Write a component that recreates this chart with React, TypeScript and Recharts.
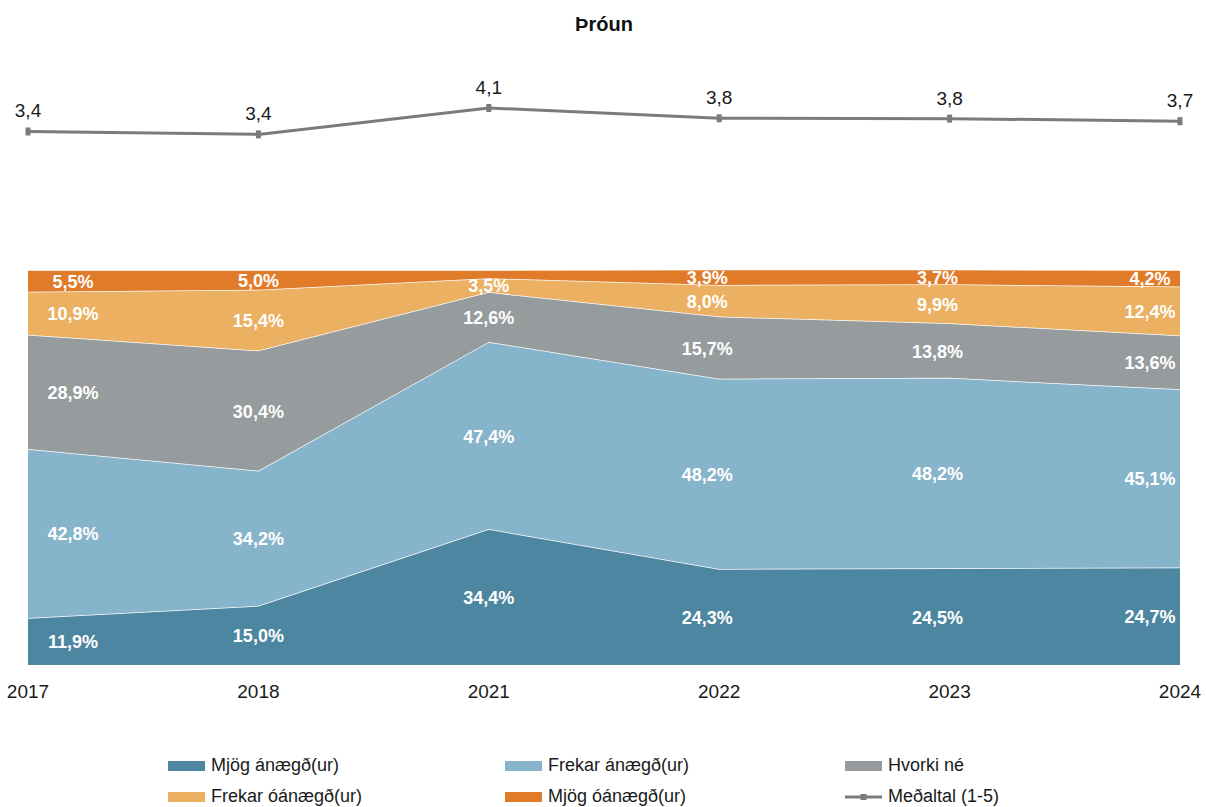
import React from 'react';
import {
  ComposedChart,
  LineChart,
  Line,
  Area,
  XAxis,
  YAxis,
  LabelList,
  Legend,
} from 'recharts';

if (typeof document !== 'undefined') {
  document.documentElement.style.overflow = 'hidden';
  document.body.style.margin = '0';
}

// ---------- data ----------
const years = ['2017', '2018', '2021', '2022', '2023', '2024'];
const mjogAnaegd = [11.9, 15.0, 34.4, 24.3, 24.5, 24.7];
const frekarAnaegd = [42.8, 34.2, 47.4, 48.2, 48.2, 45.1];
const hvorkiNe = [28.9, 30.4, 12.6, 15.7, 13.8, 13.6];
const frekarOanaegd = [10.9, 15.4, 3.5, 8.0, 9.9, 12.4];
const mjogOanaegd = [5.5, 5.0, 2.1, 3.9, 3.7, 4.2];
const medaltal = [3.44, 3.36, 4.08, 3.8, 3.79, 3.72];

const seriesNames = [
  'Mjög ánægð(ur)',
  'Frekar ánægð(ur)',
  'Hvorki né',
  'Frekar óánægð(ur)',
  'Mjög óánægð(ur)',
];
const lineName = 'Meðaltal (1-5)';
const seriesValues = [mjogAnaegd, frekarAnaegd, hvorkiNe, frekarOanaegd, mjogOanaegd];

// ---------- styles ----------
const COLORS = ['#4d86a0', '#86b4ca', '#969b9d', '#ebb062', '#e07b2a'];
const LINE_COLOR = '#7b7b7b';
const FONT = '"Liberation Sans", Arial, sans-serif';
const LABEL_DX = [45, 0, 0, -12, -12, -30];

const areaData = years.map((year, i) => {
  const row: Record<string, number | string> = { year };
  let cum = 0;
  seriesValues.forEach((arr, k) => {
    row[`v${k}`] = arr[i];
    row[`m${k}`] = cum + arr[i] / 2;
    cum += arr[i];
  });
  return row;
});

const lineData = years.map((year, i) => ({ year, avg: medaltal[i] }));

const fmt = (v: number, d = 1) => v.toFixed(d).replace('.', ',');

const BandLabel = (props: any) => {
  const { x, y, value, index } = props;
  if (value == null || value < 3) return null;
  return (
    <text
      x={x + (LABEL_DX[index] || 0)}
      y={y + 7}
      textAnchor="middle"
      fill="#ffffff"
      fontWeight="bold"
      fontSize={18}
      fontFamily={FONT}
    >
      {fmt(value)}%
    </text>
  );
};

const AvgLabel = (props: any) => {
  const { x, y, value } = props;
  return (
    <text x={x} y={y - 14} textAnchor="middle" fill="#1a1a1a" fontSize={19} fontFamily={FONT}>
      {fmt(value)}
    </text>
  );
};

const SquareDot = (props: any) => {
  const { cx, cy, index } = props;
  if (cx == null || cy == null) return null;
  return <rect key={`d${index}`} x={cx - 2.5} y={cy - 4} width={5} height={8} fill={LINE_COLOR} />;
};

const CustomLegend = () => {
  const cols = [168, 505, 845];
  const items = [
    ...seriesNames.map((n, k) => ({ name: n, color: COLORS[k], line: false })),
    { name: lineName, color: LINE_COLOR, line: true },
  ];
  return (
    <div style={{ position: 'relative', width: 1206, height: 62, fontFamily: FONT }}>
      {items.map((it, i) => {
        const row = Math.floor(i / 3);
        const col = i % 3;
        return (
          <div
            key={it.name}
            style={{
              position: 'absolute',
              left: cols[col],
              top: row * 31,
              height: 31,
              display: 'flex',
              alignItems: 'center',
              fontSize: 18,
              color: '#1a1a1a',
              whiteSpace: 'nowrap',
            }}
          >
            {it.line ? (
              <svg width={37} height={10} style={{ marginRight: 6 }}>
                <line x1={0} y1={5} x2={37} y2={5} stroke={it.color} strokeWidth={3} />
                <rect x={15.5} y={2} width={6} height={6} fill={it.color} />
              </svg>
            ) : (
              <span
                style={{
                  display: 'inline-block',
                  width: 37,
                  height: 10,
                  background: it.color,
                  marginRight: 6,
                }}
              />
            )}
            <span>{it.name}</span>
          </div>
        );
      })}
    </div>
  );
};

export default function App() {
  return (
    <div style={{ position: 'relative', width: 1206, height: 807, fontFamily: FONT, background: '#fff', overflow: 'hidden' }}>
      <div
        style={{
          position: 'absolute',
          top: 12,
          left: 0,
          width: 1208,
          textAlign: 'center',
          fontWeight: 'bold',
          fontSize: 20,
          lineHeight: '24px',
          color: '#111',
        }}
      >
        Þróun
      </div>

      <div style={{ position: 'absolute', top: 8, left: 0 }}>
        <LineChart width={1206} height={160} data={lineData} margin={{ top: 84.6, right: 26, bottom: 20.4, left: 28 }}>
          <XAxis dataKey="year" hide />
          <YAxis hide domain={[3, 4.5]} allowDataOverflow />
          <Line
            dataKey="avg"
            stroke={LINE_COLOR}
            strokeWidth={3}
            dot={<SquareDot />}
            activeDot={false}
            isAnimationActive={false}
          >
            <LabelList dataKey="avg" content={<AvgLabel />} />
          </Line>
        </LineChart>
      </div>

      <div style={{ position: 'absolute', top: 208, left: 0 }}>
        <ComposedChart
          width={1206}
          height={599}
          data={areaData}
          margin={{ top: 62, right: 26, bottom: 112, left: 28 }}
        >
          <XAxis
            dataKey="year"
            axisLine={false}
            tickLine={false}
            tickMargin={14}
            interval={0}
            height={30}
            tick={{ fill: '#1a1a1a', fontSize: 19, fontFamily: FONT }}
          />
          <YAxis hide domain={[0, 100]} allowDataOverflow />
          {seriesNames.map((n, k) => (
            <Area
              key={n}
              name={n}
              type="linear"
              dataKey={`v${k}`}
              stackId="s"
              fill={COLORS[k]}
              fillOpacity={1}
              stroke="#ffffff"
              strokeWidth={1.5}
              isAnimationActive={false}
              activeDot={false}
            />
          ))}
          {seriesNames.map((n, k) => (
            <Line
              key={`lbl${k}`}
              dataKey={`m${k}`}
              stroke="none"
              dot={false}
              activeDot={false}
              legendType="none"
              isAnimationActive={false}
            >
              <LabelList dataKey={`v${k}`} content={<BandLabel />} />
            </Line>
          ))}
          <Legend
            layout="horizontal"
            verticalAlign="middle"
            align="center"
            content={<CustomLegend />}
            wrapperStyle={{ top: 542, left: 0, width: 1206, height: 62 }}
          />
        </ComposedChart>
      </div>
    </div>
  );
}
